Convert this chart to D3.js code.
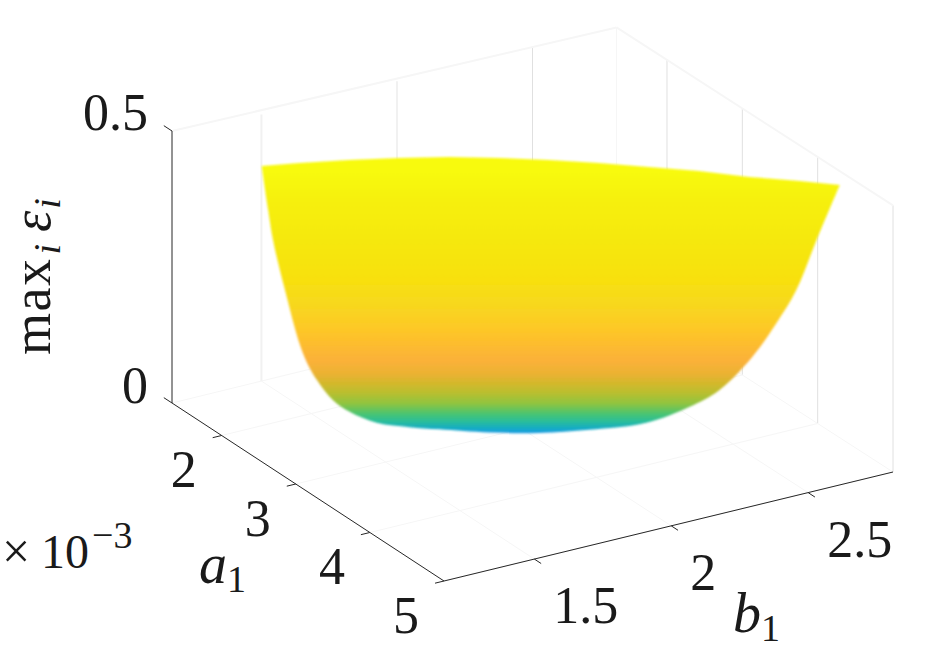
<!DOCTYPE html>
<html>
<head>
<meta charset="utf-8">
<script src="https://cdn.jsdelivr.net/npm/d3@7"></script>
<style>
  body { margin: 0; background: #fff; }
  text { font-family: "Liberation Serif", serif; fill: #1a1a1a; }
</style>
</head>
<body>
<div class="viewport"></div>
<script>
// tick values (a1 is in units of 10^-3)
var aTicks = [2, 3, 4, 5];
var bTicks = [1.5, 2, 2.5];
var zTicks = [0, 0.5];
var aLimits = [1.33, 5];
var bLimits = [1.17, 2.81];
var zLimits = [0, 0.5];

// outline of the visible surface, walked from the a1 side rim, along the rim, down and back
var edgeA = [1.858, 1.952, 2.089, 2.242, 2.409, 2.607, 2.820, 3.048, 3.290, 3.533, 3.806, 4.049, 4.297,
             4.123, 4.050, 3.977, 3.889, 3.769, 3.659, 3.502, 3.294, 3.126, 2.936, 2.746, 2.637,
             2.516, 2.417, 2.355, 2.297, 2.246, 2.180, 2.136, 2.118];
var edgeB = [1.356, 1.470, 1.615, 1.756, 1.894, 2.023, 2.148, 2.269, 2.386, 2.503, 2.613, 2.730, 2.809,
             2.772, 2.718, 2.665, 2.601, 2.513, 2.433, 2.319, 2.167, 2.030, 1.898, 1.767, 1.687,
             1.599, 1.527, 1.482, 1.439, 1.402, 1.354, 1.322, 1.309];
var edgeZ = [0.46, 0.46, 0.46, 0.46, 0.46, 0.46, 0.46, 0.46, 0.46, 0.46, 0.46, 0.46, 0.465,
             0.353, 0.261, 0.200, 0.138, 0.077, 0.046, 0.017, 0.004, 0, 0, 0.005, 0.009,
             0.017, 0.037, 0.059, 0.096, 0.145, 0.261, 0.353, 0.408];
var rimCount = 13; // the first 13 outline points are the rim, the rest is the rounded bottom

// colour against height, as seen down the middle of the surface
var colorZ = [0, 0.009, 0.022, 0.035, 0.053, 0.072, 0.09, 0.108, 0.132, 0.164, 0.193, 0.237, 0.279, 0.353, 0.426, 0.48];
var colorHex = ["#1b9ee0", "#18aec0", "#2cbf95", "#4cc470", "#8fc440", "#b8bf30", "#d3b82c", "#ebb232",
                "#fbb13a", "#fdbd2e", "#fdc926", "#f7d81e", "#f8e00f", "#f5e80f", "#f6f00f", "#f8fa0c"];
// a point on the valley line, the gradient is measured straight above it
var valleyA = 2.936, valleyB = 1.898;

var width = 948, height = 658;

// the box: one corner and one pixel vector per axis
var origin = [172, 403];
var aVector = [272, 178];
var bVector = [449, -109];
var zVector = [0, -272];
var backShrink = 0.01; // the back wall is a touch narrower than the front edge

var aScale = d3.scaleLinear().domain(aLimits).range([0, 1]);
var bScale = d3.scaleLinear().domain(bLimits).range([0, 1]);
var zScale = d3.scaleLinear().domain(zLimits).range([0, 1]);

function project(a, b, z) {
    var u = aScale(a), v = bScale(b), w = zScale(z);
    return [origin[0] + u * aVector[0] + v * bVector[0] * (1 - backShrink * (1 - u)) + w * zVector[0],
            origin[1] + u * aVector[1] + v * bVector[1] + w * zVector[1]];
}

var svg = d3.select(".viewport").append("svg")
    .attr("width", width)
    .attr("height", height)
    .style("display", "block");

var defs = svg.append("defs");

var gradient = defs.append("linearGradient")
    .attr("id", "heightColor")
    .attr("gradientUnits", "userSpaceOnUse")
    .attr("x1", 0).attr("x2", 0)
    .attr("y1", project(valleyA, valleyB, colorZ[0])[1])
    .attr("y2", project(valleyA, valleyB, colorZ[colorZ.length - 1])[1]);

var zFraction = d3.scaleLinear().domain(d3.extent(colorZ)).range([0, 1]);
gradient.selectAll("stop").data(colorZ).enter().append("stop")
    .attr("offset", function(d) { return zFraction(d); })
    .attr("stop-color", function(d, i) { return colorHex[i]; });

defs.append("filter")
    .attr("id", "soften")
    .append("feGaussianBlur")
    .attr("stdDeviation", 0.8);

function segment(group, from, to, color, lineWidth) {
    group.append("line")
        .attr("x1", from[0]).attr("y1", from[1])
        .attr("x2", to[0]).attr("y2", to[1])
        .attr("stroke", color)
        .attr("stroke-width", lineWidth);
}

// faint walls and floor behind the surface
var grid = svg.append("g").attr("class", "grid");
var aMin = aLimits[0], aMax = aLimits[1], bMin = bLimits[0], bMax = bLimits[1], zMin = zLimits[0], zMax = zLimits[1];
var wallTop = 0.49; // back edge of the box reads slightly lower than the front one
var faint = "#f6f6f6", wall = "#e0e0e0", paleWall = "#f1f1f1";

bTicks.forEach(function(b) {
    segment(grid, project(aMin, b, zMin), project(aMax, b, zMin), faint, 1);
    segment(grid, project(aMin, b, zMin), project(aMin, b, wallTop), b < 2.5 ? paleWall : wall, b < 2.5 ? 2 : 1);
});
aTicks.forEach(function(a) {
    segment(grid, project(a, bMin, zMin), project(a, bMax, zMin), faint, 1);
    segment(grid, project(a, bMax, zMin), project(a, bMax, wallTop), wall, 1);
});
segment(grid, project(aMin, bMin, zMax), project(aMin, bMax, wallTop), faint, 2);
segment(grid, project(aMin, bMax, wallTop), project(aMax, bMax, wallTop), faint, 2);
segment(grid, project(aMin, bMin, zMin), project(aMin, bMax, zMin), faint, 1);
segment(grid, project(aMin, bMax, zMin), project(aMax, bMax, zMin), faint, 1);
segment(grid, project(aMin, bMax, zMin), project(aMin, bMax, wallTop), faint, 1);

// surface: straight along the rim, smooth round the bottom
var edgePoints = edgeA.map(function(a, i) { return project(a, edgeB[i], edgeZ[i]); });
var rimPoints = edgePoints.slice(0, rimCount);
var bottomPoints = edgePoints.slice(rimCount - 1).concat([edgePoints[0]]);

var rimLine = d3.line().curve(d3.curveLinear);
var bottomLine = d3.line().curve(d3.curveCatmullRom.alpha(0.5));

svg.append("path")
    .attr("class", "surface")
    .attr("d", rimLine(rimPoints) + bottomLine(bottomPoints).replace("M", "L") + "Z")
    .attr("fill", "url(#heightColor)")
    .attr("filter", "url(#soften)");

// axis lines and ticks
var axes = svg.append("g").attr("class", "axes");
var ink = "#262626";

segment(axes, project(aMin, bMin, zMin), project(aMin, bMin, zMax), ink, 1);
segment(axes, project(aMin, bMin, zMin), project(aMax, bMin, zMin), ink, 1);
segment(axes, project(aMax, bMin, zMin), project(aMax, bMax, zMin), ink, 1);

zTicks.forEach(function(z) {
    var p = project(aMin, bMin, z);
    segment(axes, p, [p[0] - 0.03 * aVector[0], p[1] - 0.03 * aVector[1]], ink, 1);
    axes.append("text")
        .attr("x", p[0] - 24).attr("y", p[1] - (z === 0 ? 0 : 1))
        .attr("text-anchor", "end")
        .attr("font-size", 52)
        .text(d3.format("~g")(z));
});

aTicks.forEach(function(a) {
    var p = project(a, bMin, zMin);
    segment(axes, p, [p[0] - 0.02 * bVector[0], p[1] - 0.02 * bVector[1]], ink, 1);
    axes.append("text")
        .attr("x", p[0] - 38).attr("y", p[1] + 52)
        .attr("text-anchor", "middle")
        .attr("font-size", 52)
        .text(a);
});

bTicks.forEach(function(b) {
    var p = project(aMax, b, zMin);
    segment(axes, p, [p[0] + 0.025 * aVector[0], p[1] + 0.025 * aVector[1]], ink, 1);
    axes.append("text")
        .attr("x", p[0] + 19).attr("y", p[1] + 64)
        .attr("font-size", 52)
        .text(b);
});

// labels
var zLabel = svg.append("text")
    .attr("transform", "translate(50,355) rotate(-90)")
    .attr("font-size", 54);
zLabel.append("tspan").attr("letter-spacing", 1.5).text("max");
zLabel.append("tspan").attr("font-size", 38).attr("font-style", "italic").attr("dx", 3).attr("dy", 10).text("i");
zLabel.append("tspan").attr("font-style", "italic").attr("dx", 12).attr("dy", -10).text("ε");
zLabel.append("tspan").attr("font-size", 38).attr("font-style", "italic").attr("dx", 2).attr("dy", 10).text("i");

var aLabel = svg.append("text").attr("x", 199).attr("y", 583).attr("font-size", 56);
aLabel.append("tspan").attr("font-style", "italic").text("a");
aLabel.append("tspan").attr("font-size", 38).attr("dy", 9).text("1");

var bLabel = svg.append("text").attr("x", 733).attr("y", 632).attr("font-size", 56);
bLabel.append("tspan").attr("font-style", "italic").text("b");
bLabel.append("tspan").attr("font-size", 38).attr("dy", 9).text("1");

var scaleLabel = svg.append("text").attr("x", 2).attr("y", 568).attr("font-size", 50);
scaleLabel.append("tspan").text("×");
scaleLabel.append("tspan").attr("x", 41).attr("font-size", 48).text("10");
scaleLabel.append("tspan").attr("x", 92).attr("font-size", 38).attr("dy", -20).text("−3");
</script>
</body>
</html>
